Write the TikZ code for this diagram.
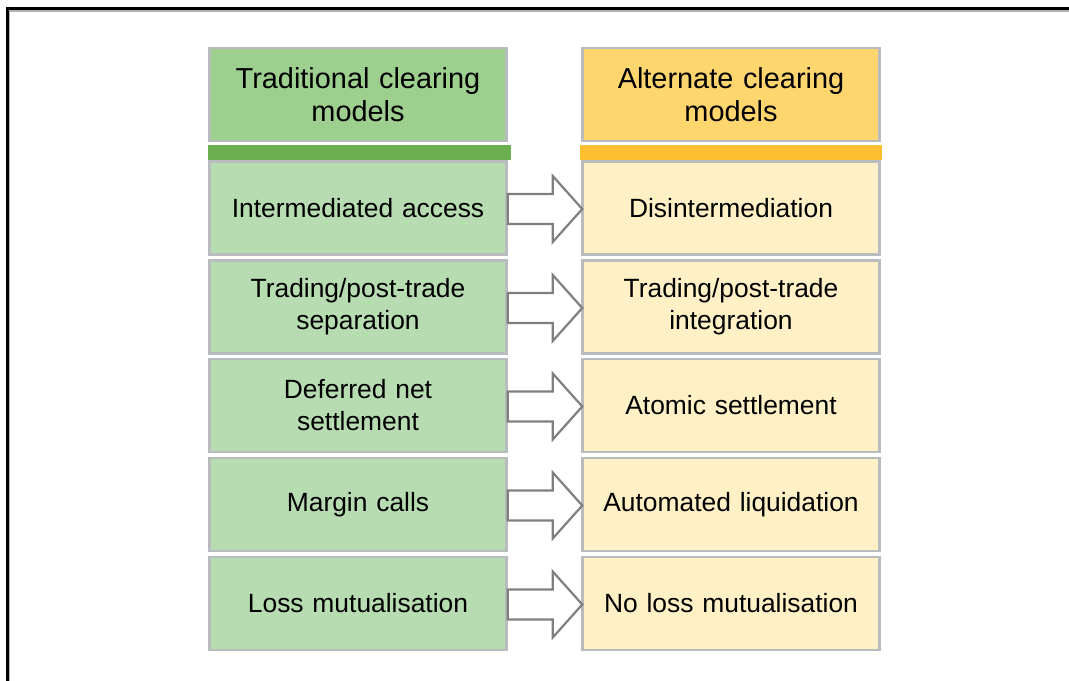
\documentclass[tikz,border=0pt]{standalone}
\usepackage{fontspec}
\setmainfont{Liberation Sans}
\usetikzlibrary{calc}
\definecolor{tradhead}{HTML}{9DCF8F}
\definecolor{tradbar}{HTML}{6AAE4F}
\definecolor{tradrow}{HTML}{B7DCB1}
\definecolor{althead}{HTML}{FFD66E}
\definecolor{altbar}{HTML}{FDBF2F}
\definecolor{altrow}{HTML}{FFF0C6}
\definecolor{boxline}{HTML}{B9BCBE}
\definecolor{arrowline}{HTML}{7F7F7F}
\tikzset{
  cell/.style={draw=boxline, line width=2.5bp, minimum width=297bp, minimum height=93bp,
    inner sep=0pt, align=center, font=\fontsize{26.5}{32}\selectfont, text width=294bp},
  tradcell/.style={cell, fill=tradrow},
  altcell/.style={cell, fill=altrow},
  tradtitle/.style={cell, fill=tradhead, font=\fontsize{29}{33}\selectfont},
  alttitle/.style={cell, fill=althead, font=\fontsize{29}{33}\selectfont},
  blockarrow/.style={draw=arrowline, fill=white, line width=2.2bp, line join=miter},
}
\begin{document}
\begin{tikzpicture}[x=1bp, y=-1bp]
  \useasboundingbox (0,0) rectangle (1069,681);
  % outer frame, open to the right and bottom
  \draw[line width=1.5bp, gray!60] (9.5,681) -- (9.5,11) -- (1069,11);
  \draw[line width=3bp, black] (7,681) -- (7,9) -- (1069,9);

  % column headers
  \node[tradtitle] (th) at (358,94.5) {Traditional clearing\\models};
  \node[alttitle]  (ah) at (731,94.5) {Alternate clearing\\models};
  \fill[tradbar] (208,145) rectangle (511,160);
  \fill[altbar]  (580,145) rectangle (882,160);

  % traditional models
  \node[tradcell] (t1) at (358,208)   {Intermediated access};
  \node[tradcell] (t2) at (358,307)   {Trading/post-trade\\separation};
  \node[tradcell] (t3) at (358,405.5) {Deferred net\\settlement};
  \node[tradcell] (t4) at (358,504.5) {Margin calls};
  \node[tradcell] (t5) at (358,603.5) {Loss mutualisation};

  % alternate models
  \node[altcell] (a1) at (731,208)   {Disintermediation};
  \node[altcell] (a2) at (731,307)   {Trading/post-trade\\integration};
  \node[altcell] (a3) at (731,405.5) {Atomic settlement};
  \node[altcell] (a4) at (731,504.5) {Automated liquidation};
  \node[altcell] (a5) at (731,603.5) {No loss mutualisation};

  % block arrows from each traditional model to its alternative
  \foreach \i in {1,...,5}{
    \draw[blockarrow]
      ($(t\i.east)+(0,-14)$) -- ++(45,0) -- ++(0,-18)
      -- ($(a\i.west)+(1,1)$)
      -- ($(t\i.east)+(45,34)$) -- ++(0,-18) -- ++(-45,0) -- cycle;
  }
\end{tikzpicture}
\end{document}
